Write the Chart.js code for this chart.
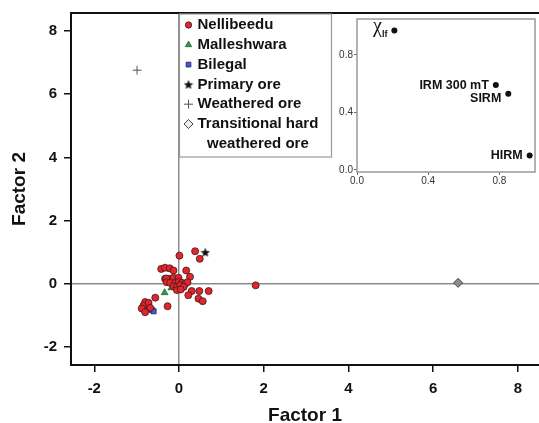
<!DOCTYPE html>
<html>
<head>
<meta charset="utf-8">
<script src="https://cdn.jsdelivr.net/npm/chart.js@4/dist/chart.umd.min.js"></script>
<style>
  body { margin: 0; background: #fff; }
  #wrap { position: relative; width: 539px; height: 423px; }
  #main { position: absolute; left: 0; top: 0; }
  #inset { position: absolute; left: 333px; top: 15px; }
</style>
</head>
<body>
<div id="wrap">
  <canvas id="main" width="539" height="423"></canvas>
  <canvas id="inset" width="206" height="180"></canvas>
</div>
<script>
// factor scores
var nelliX = [0.01, 0.38, 0.49, -0.42, -0.33, -0.22, -0.13, 0.17, -0.33, -0.23, -0.13, -0.01, 0.26, -0.30,
    -0.29, -0.21, -0.09, -0.01, 0.07, 0.15, 0.20, -0.13, -0.05, 0.03, 0.11, -0.05, 0.04, 0.30, 0.48, 0.70,
    0.22, 0.46, 0.56, -0.56, -0.27, -0.80, -0.84, -0.88, -0.80, -0.72, -0.68, 1.81];
var nelliY = [0.89, 1.03, 0.79, 0.47, 0.51, 0.49, 0.42, 0.42, 0.16, 0.16, 0.19, 0.19, 0.22, 0.17,
    0.05, 0.03, 0.03, 0.06, 0.03, 0.01, 0.05, -0.08, -0.10, -0.05, -0.10, -0.20, -0.18, -0.23, -0.23, -0.23,
    -0.36, -0.47, -0.55, -0.44, -0.71, -0.58, -0.69, -0.78, -0.90, -0.60, -0.76, -0.05];
var mallX = [-0.34, -0.18, -0.20];
var mallY = [-0.28, -0.13, 0.45];
var bileX = [-0.77, -0.64, -0.60, -0.70];
var bileY = [-0.73, -0.83, -0.87, -0.78];
var primX = [0.62];
var primY = [1.00];
var weathX = [-0.99];
var weathY = [6.76];
var transX = [6.59];
var transY = [0.03];

var xTicks = [-2, 0, 2, 4, 6, 8];
var yTicks = [-2, 0, 2, 4, 6, 8];

// loadings inset
var loadNames = ['χ', 'IRM 300 mT', 'SIRM', 'HIRM'];
var loadSubs = ['lf', '', '', ''];
var loadX = [0.21, 0.78, 0.85, 0.97];
var loadY = [0.97, 0.59, 0.53, 0.10];
var inTicksX = [0, 0.4, 0.8];
var inTicksY = [0, 0.4, 0.8];

var FONT = '"Liberation Sans", Arial, sans-serif';

function pts(xs, ys) {
    var out = [];
    for (var i = 0; i < xs.length; i++) out.push({x: xs[i], y: ys[i]});
    return out;
}

function starImage(size, color) {
    var c = document.createElement('canvas');
    c.width = size; c.height = size;
    var g = c.getContext('2d');
    g.beginPath();
    for (var i = 0; i < 10; i++) {
        var r = i % 2 ? size * 0.22 : size * 0.5;
        var a = -Math.PI / 2 + i * Math.PI / 5;
        var px = size / 2 + r * Math.cos(a), py = size / 2 + 0.5 + r * Math.sin(a);
        if (i === 0) g.moveTo(px, py); else g.lineTo(px, py);
    }
    g.closePath();
    g.fillStyle = color;
    g.fill();
    return c;
}

// no extra room for half tick labels, the frame sits where the figure puts it
function noPadX(s) { s.height = 58; s.paddingLeft = 0; s.paddingRight = 0; }
function noPadY(s) { s.width = 71; s.paddingTop = 0; s.paddingBottom = 0; }

var frame = {
    id: 'frame',
    afterDatasetsDraw: function(chart) {
        var ctx = chart.ctx, a = chart.chartArea;
        ctx.save();
        ctx.strokeStyle = '#111';
        ctx.lineWidth = 2;
        ctx.beginPath();
        ctx.moveTo(a.left, a.top);
        ctx.lineTo(a.right, a.top);
        ctx.stroke();
        ctx.restore();
    }
};

var legendBox = {
    id: 'legendBox',
    afterDraw: function(chart) {
        var ctx = chart.ctx, a = chart.chartArea;
        var left = Math.round(chart.scales.x.getPixelForValue(0)) + 0.5;
        var top = a.top + 1;
        ctx.save();
        ctx.fillStyle = '#fff';
        ctx.fillRect(left, top, 152, 143);
        ctx.strokeStyle = '#999';
        ctx.lineWidth = 1.2;
        ctx.strokeRect(left, top, 152, 143);
        ctx.font = 'bold 15px ' + FONT;
        ctx.textBaseline = 'middle';
        var y = top + 11;
        chart.data.datasets.forEach(function(ds) {
            ctx.fillStyle = ds.legendFill || ds.backgroundColor;
            ctx.strokeStyle = ds.borderColor;
            ctx.lineWidth = ds.borderWidth;
            Chart.helpers.drawPoint(ctx, {
                pointStyle: ds.pointStyle,
                radius: ds.legendRadius || ds.pointRadius,
                rotation: 0,
                borderWidth: ds.borderWidth
            }, left + 9, y);
            var lines = ds.label.split('\n');
            ctx.fillStyle = '#111';
            ctx.textAlign = 'left';
            ctx.fillText(lines[0], left + 18, y);
            if (lines.length > 1) {
                var w = ctx.measureText(lines[0]).width;
                ctx.textAlign = 'center';
                ctx.fillText(lines[1], left + 18 + w / 2, y + 20);
            }
            y += 19.8;
        });
        ctx.restore();
    }
};

function zeroGrid(c) {
    return c.tick && c.tick.value === 0 ? '#8c8c8c' : 'rgba(0,0,0,0)';
}

var mainChart = new Chart(document.getElementById('main'), {
    type: 'scatter',
    data: {
        datasets: [{
            label: 'Nellibeedu',
            data: pts(nelliX, nelliY),
            backgroundColor: '#e4252b',
            borderColor: '#3a1a1a',
            borderWidth: 0.8,
            pointRadius: 3.5,
            legendRadius: 3.2,
            pointStyle: 'circle'
        },
        {
            label: 'Malleshwara',
            data: pts(mallX, mallY),
            backgroundColor: '#2e9a45',
            borderColor: '#1d4a25',
            borderWidth: 0.6,
            pointRadius: 4,
            legendRadius: 3.8,
            pointStyle: 'triangle'
        },
        {
            label: 'Bilegal',
            data: pts(bileX, bileY),
            backgroundColor: '#4456e0',
            borderColor: '#1c2260',
            borderWidth: 0.8,
            pointRadius: 3.6,
            legendRadius: 3.4,
            pointStyle: 'rect'
        },
        {
            label: 'Primary ore',
            data: pts(primX, primY),
            backgroundColor: '#111',
            borderColor: '#111',
            borderWidth: 0,
            pointRadius: 5,
            pointStyle: starImage(10, '#111')
        },
        {
            label: 'Weathered ore',
            data: pts(weathX, weathY),
            backgroundColor: '#555',
            borderColor: '#555',
            borderWidth: 1,
            pointRadius: 4.5,
            pointStyle: 'cross'
        },
        {
            label: 'Transitional hard\nweathered ore',
            data: pts(transX, transY),
            backgroundColor: '#8c8c8c',
            legendFill: '#eee',
            borderColor: '#444',
            borderWidth: 1,
            pointRadius: 4.5,
            pointStyle: 'rectRot'
        }]
    },
    options: {
        responsive: false,
        animation: false,
        layout: { autoPadding: false, padding: { top: 13, right: 0, left: 0, bottom: 0 } },
        plugins: {
            legend: { display: false },
            tooltip: { enabled: false }
        },
        scales: {
            x: {
                type: 'linear',
                min: -2.55,
                max: 8.5,
                afterBuildTicks: function(s) { s.ticks = xTicks.map(function(v) { return {value: v}; }); },
                afterFit: noPadX,
                border: { display: true, color: '#111', width: 2 },
                grid: { color: zeroGrid, lineWidth: 1.5, tickColor: '#111', tickWidth: 1.5, tickLength: 7 },
                ticks: { color: '#111', padding: 8, font: { family: FONT, size: 15, weight: 'bold' } },
                title: {
                    display: true, text: 'Factor 1', color: '#111',
                    font: { family: FONT, size: 19, weight: 'bold', lineHeight: 1 },
                    padding: { top: 0, bottom: -2 }
                }
            },
            y: {
                type: 'linear',
                min: -2.57,
                max: 8.57,
                afterBuildTicks: function(s) { s.ticks = yTicks.map(function(v) { return {value: v}; }); },
                afterFit: noPadY,
                border: { display: true, color: '#111', width: 2 },
                grid: { color: zeroGrid, lineWidth: 1.5, tickColor: '#111', tickWidth: 1.5, tickLength: 7 },
                ticks: { color: '#111', padding: 7, font: { family: FONT, size: 15, weight: 'bold' } },
                title: {
                    display: true, text: 'Factor 2', color: '#111',
                    font: { family: FONT, size: 19, weight: 'bold', lineHeight: 1 },
                    padding: { top: 10, bottom: 0 }
                }
            }
        }
    },
    plugins: [frame, legendBox]
});

var insetLabels = {
    id: 'insetLabels',
    afterDatasetsDraw: function(chart) {
        var ctx = chart.ctx, a = chart.chartArea;
        ctx.save();
        ctx.strokeStyle = '#999';
        ctx.lineWidth = 1.5;
        ctx.strokeRect(a.left, a.top, a.right - a.left, a.bottom - a.top);
        ctx.fillStyle = '#111';
        ctx.textBaseline = 'middle';
        ctx.textAlign = 'right';
        var prevY = -100;
        chart.getDatasetMeta(0).data.forEach(function(p, i) {
            var x = p.x - 7;
            var ly = p.y;
            // keep stacked labels from colliding
            if (ly - prevY < 13) ly = prevY + 13;
            if (loadSubs[i]) {
                ctx.font = 'bold 9px ' + FONT;
                ctx.fillText(loadSubs[i], x, ly + 4);
                var w = ctx.measureText(loadSubs[i]).width;
                ctx.font = '20px "Liberation Serif", "DejaVu Serif", serif';
                ctx.fillText(loadNames[i], x - w, ly - 4);
            } else {
                ctx.font = 'bold 12.5px ' + FONT;
                ctx.fillText(loadNames[i], x, ly);
            }
            prevY = ly;
        });
        ctx.restore();
    }
};

var insetChart = new Chart(document.getElementById('inset'), {
    type: 'scatter',
    data: {
        datasets: [{
            label: 'Loadings',
            data: pts(loadX, loadY),
            backgroundColor: '#111',
            borderColor: '#111',
            borderWidth: 0,
            pointRadius: 3
        }]
    },
    options: {
        responsive: false,
        animation: false,
        layout: { autoPadding: false, padding: { top: 4, right: 4, left: 0, bottom: 0 } },
        plugins: {
            legend: { display: false },
            tooltip: { enabled: false }
        },
        scales: {
            x: {
                type: 'linear',
                min: 0,
                max: 1.0,
                afterBuildTicks: function(s) { s.ticks = inTicksX.map(function(v) { return {value: v}; }); },
                afterFit: function(s) { s.height = 23; s.paddingLeft = 0; s.paddingRight = 0; },
                border: { display: false },
                grid: { drawOnChartArea: false, tickColor: '#666', tickLength: 3 },
                ticks: {
                    color: '#333', padding: 0,
                    font: { family: FONT, size: 10 },
                    callback: function(v) { return v.toFixed(1); }
                }
            },
            y: {
                type: 'linear',
                min: -0.015,
                max: 1.05,
                afterBuildTicks: function(s) { s.ticks = inTicksY.map(function(v) { return {value: v}; }); },
                afterFit: function(s) { s.width = 24; s.paddingTop = 0; s.paddingBottom = 0; },
                border: { display: false },
                grid: { drawOnChartArea: false, tickColor: '#666', tickLength: 3 },
                ticks: {
                    color: '#333', padding: 1,
                    font: { family: FONT, size: 10 },
                    callback: function(v) { return v.toFixed(1); }
                }
            }
        }
    },
    plugins: [insetLabels]
});
</script>
</body>
</html>
